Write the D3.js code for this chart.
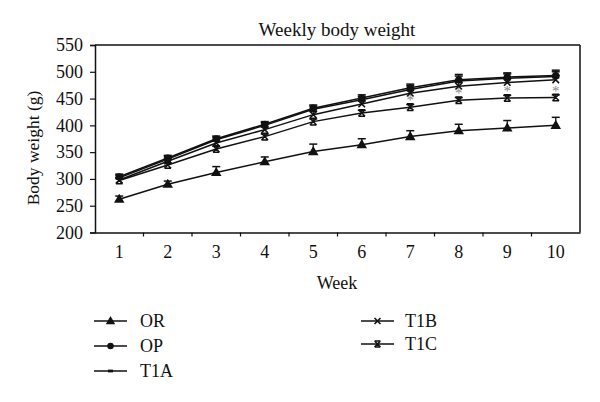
<!DOCTYPE html>
<html><head><meta charset="utf-8">
<script src="https://cdn.jsdelivr.net/npm/d3@7"></script>
<style>
body{margin:0;background:#fff;}
text{font-family:"Liberation Serif","Times New Roman",serif;fill:#111;}
</style></head>
<body><svg id="c" width="600" height="402"></svg>
<script>
const weeks = ["1","2","3","4","5","6","7","8","9","10"];
const seriesNames = ["OR","OP","T1A","T1B","T1C"];
const OR  = [262, 290, 312, 332, 351, 364, 379, 390, 395, 400];
const OP  = [304, 339, 375, 402, 432, 451, 470, 485, 490, 493];
const T1A = [302, 337, 373, 400, 430, 448, 467, 483, 488, 491];
const T1B = [298, 333, 367, 392, 420, 440, 460, 473, 480, 485];
const T1C = [297, 326, 356, 379, 407, 423, 434, 447, 451, 452];
const OR_err  = [6, 6, 11, 9, 14, 11, 11, 12, 14, 15];
const OP_err  = [5, 5, 5, 5, 6, 6, 7, 10, 8, 10];
const T1A_err = [5, 5, 5, 5, 6, 6, 7, 9, 8, 9];
const T1B_err = [4, 5, 5, 5, 6, 6, 6, 7, 7, 8];
const T1C_err = [4, 4, 5, 5, 5, 5, 5, 5, 5, 5];
const sigWeeks = ["7","8","9","10"];
const yTicks = [200, 250, 300, 350, 400, 450, 500, 550];

const values = {OR, OP, T1A, T1B, T1C};
const errs = {OR: OR_err, OP: OP_err, T1A: T1A_err, T1B: T1B_err, T1C: T1C_err};

const svg = d3.select("#c");
const L = 95, R = 580, T = 45, B = 232.5;

const x = d3.scaleBand().domain(weeks).range([L, R]).padding(0);
const cx = d => x(d) + x.bandwidth() / 2;
const y = d3.scaleLinear().domain([200, 550]).range([B, T]);

// title
svg.append("text").attr("x", 337).attr("y", 36).attr("text-anchor", "middle")
  .style("font-size", "19px").text("Weekly body weight");

// frame: top and right
svg.append("line").attr("x1", L).attr("x2", R).attr("y1", T).attr("y2", T)
  .attr("stroke", "#111").attr("stroke-width", 1.5);
svg.append("line").attr("x1", R).attr("x2", R).attr("y1", T).attr("y2", B)
  .attr("stroke", "#111").attr("stroke-width", 1.5);

// y axis
const ya = svg.append("g").attr("transform", `translate(${L},0)`)
  .call(d3.axisLeft(y).tickValues(yTicks).tickSize(5).tickPadding(7).tickFormat(d3.format("d")));
ya.select(".domain").attr("stroke", "#111").attr("stroke-width", 1.5);
ya.selectAll(".tick line").attr("stroke", "#111").attr("stroke-width", 1.2);
ya.selectAll("text").style("font-size", "18px").attr("font-family", null);

// x axis (labels centered, ticks at band boundaries)
const xa = svg.append("g").attr("transform", `translate(0,${B})`)
  .call(d3.axisBottom(x).tickSize(0).tickPadding(13));
xa.select(".domain").attr("stroke", "#111").attr("stroke-width", 1.5);
xa.selectAll("text").style("font-size", "18px").attr("font-family", null);
svg.append("g").selectAll("line").data(weeks.slice(1)).join("line")
  .attr("x1", d => x(d)).attr("x2", d => x(d)).attr("y1", B).attr("y2", B + 4)
  .attr("stroke", "#111").attr("stroke-width", 1.2);

// axis titles
svg.append("text").attr("x", 337).attr("y", 289).attr("text-anchor", "middle")
  .style("font-size", "18px").text("Week");
svg.append("text").attr("transform", "translate(39,148) rotate(-90)").attr("text-anchor", "middle")
  .style("font-size", "17.5px").text("Body weight (g)");

// marker drawing
function marker(g, name, px, py, scale) {
  const s = scale || 1;
  if (name === "OR") {
    g.append("path").attr("d", d3.symbol(d3.symbolTriangle, 48 * s * s)())
      .attr("transform", `translate(${px},${py + 0.5})`).attr("fill", "#111");
  } else if (name === "OP") {
    g.append("circle").attr("cx", px).attr("cy", py).attr("r", 3.6 * s).attr("fill", "#111");
  } else if (name === "T1A") {
    g.append("rect").attr("x", px - 3.5 * s).attr("y", py - 2 * s).attr("width", 7 * s).attr("height", 4 * s).attr("fill", "#111");
  } else if (name === "T1B") {
    const a = 3.3 * s;
    g.append("path").attr("d", `M${px - a},${py - a}L${px + a},${py + a}M${px - a},${py + a}L${px + a},${py - a}`)
      .attr("stroke", "#111").attr("stroke-width", 1.6).attr("fill", "none");
  } else {
    const a = 3.3 * s;
    g.append("path").attr("d", `M${px - a},${py - a}L${px + a},${py + a}M${px - a},${py + a}L${px + a},${py - a}M${px - a},${py - a}L${px + a},${py - a}M${px - a},${py + a}L${px + a},${py + a}`)
      .attr("stroke", "#111").attr("stroke-width", 1.5).attr("fill", "none");
  }
}

const line = d3.line().x((d, i) => cx(weeks[i])).y(d => y(d));
const plot = svg.append("g");
seriesNames.slice().reverse().forEach(name => {
  const vals = values[name], e = errs[name];
  const g = plot.append("g");
  g.append("path").datum(vals).attr("d", line).attr("fill", "none")
    .attr("stroke", "#111").attr("stroke-width", 1.5);
  // error bars (upper)
  g.selectAll("line.err").data(vals).join("line").attr("class", "err")
    .attr("x1", (d, i) => cx(weeks[i])).attr("x2", (d, i) => cx(weeks[i]))
    .attr("y1", d => y(d)).attr("y2", (d, i) => y(d + e[i]))
    .attr("stroke", "#111").attr("stroke-width", 1.3);
  g.selectAll("line.cap").data(vals).join("line").attr("class", "cap")
    .attr("x1", (d, i) => cx(weeks[i]) - 4).attr("x2", (d, i) => cx(weeks[i]) + 4)
    .attr("y1", (d, i) => y(d + e[i])).attr("y2", (d, i) => y(d + e[i]))
    .attr("stroke", "#111").attr("stroke-width", 1.5);
  vals.forEach((v, i) => marker(g, name, cx(weeks[i]), y(v)));
});

// significance asterisks
svg.append("g").selectAll("text").data(sigWeeks).join("text")
  .attr("x", d => cx(d)).attr("y", d => y(T1C[weeks.indexOf(d)]) - 2)
  .attr("text-anchor", "middle").style("font-size", "15px").style("fill", "#888")
  .text("*");

// legend
const leg = [
  {name: "OR", x: 94, y: 321}, {name: "OP", x: 94, y: 346}, {name: "T1A", x: 94, y: 371},
  {name: "T1B", x: 361, y: 321}, {name: "T1C", x: 361, y: 344}
];
const lg = svg.append("g");
leg.forEach(l => {
  lg.append("line").attr("x1", l.x).attr("x2", l.x + 33).attr("y1", l.y).attr("y2", l.y)
    .attr("stroke", "#111").attr("stroke-width", 1.5);
  marker(lg, l.name, l.x + 16.5, l.y, l.name === "T1A" ? 0.7 : 0.9);
  lg.append("text").attr("x", l.x + (l.x < 200 ? 46 : 44)).attr("y", l.y + 6)
    .style("font-size", "18px").text(l.name);
});
</script></body></html>
